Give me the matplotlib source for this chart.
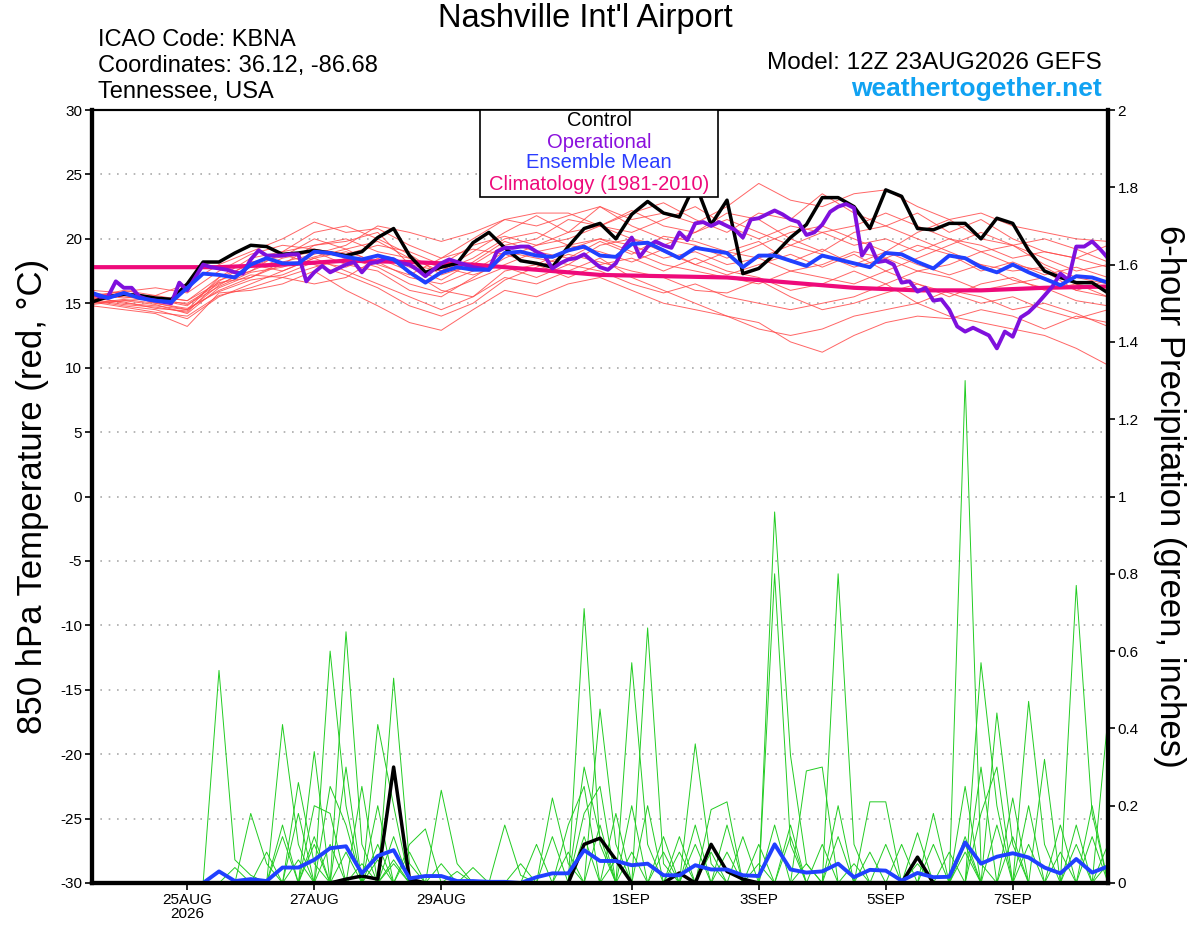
import numpy as np
import matplotlib.pyplot as plt
from matplotlib.patches import Rectangle

plt.rcParams['font.family'] = ['Liberation Sans', 'DejaVu Sans']

# forecast hours from 12Z 23AUG2026
tick_hours = [36, 84, 132, 204, 252, 300, 348]
tick_labels = ['25AUG\n2026', '27AUG', '29AUG', '1SEP', '3SEP', '5SEP', '7SEP']

# control 850 hPa temperature, 6-hourly
control_t = [15.1, 15.5, 15.7, 15.6, 15.4, 15.3, 16.5, 18.2, 18.2, 18.9,
             19.5, 19.4, 18.8, 18.9, 19.1, 18.9, 18.7, 19.0, 20.1, 20.8,
             18.7, 17.4, 17.8, 18.1, 19.7, 20.5, 19.3, 18.3, 18.1, 17.8,
             19.4, 20.8, 21.2, 20.0, 21.9, 22.9, 22.0, 21.7, 24.3, 21.1,
             23.0, 17.3, 17.7, 18.8, 20.1, 21.1, 23.2, 23.2, 22.5, 20.8,
             23.8, 23.3, 20.8, 20.7, 21.2, 21.2, 20.0, 21.6, 21.2, 19.1,
             17.5, 17.0, 16.6, 16.6, 15.8]

# ensemble mean temperature, 6-hourly
mean_t = [15.8, 15.4, 15.8, 15.4, 15.2, 15.1, 16.2, 17.3, 17.2, 17.0,
          18.0, 18.5, 18.1, 18.1, 19.0, 18.9, 18.6, 18.4, 18.7, 18.4,
          17.4, 16.6, 17.4, 17.8, 17.6, 17.6, 18.9, 19.0, 18.7, 18.6,
          19.1, 19.4, 18.7, 18.6, 19.6, 19.7, 19.1, 18.5, 19.3, 19.1,
          18.9, 17.8, 18.7, 18.7, 18.3, 17.9, 18.7, 18.4, 18.1, 17.8,
          18.9, 18.8, 18.2, 17.7, 18.7, 18.5, 17.8, 17.4, 18.0, 17.4,
          16.9, 16.4, 17.1, 17.0, 16.6]

# operational GFS temperature, 3-hourly
oper_t = [15.8, 15.5, 15.5, 16.7, 16.2, 16.2, 15.5, 15.3, 15.2, 15.1,
          15.0, 16.6, 16.0, 17.0, 18.0, 17.8, 17.7, 17.6, 17.4, 17.3,
          18.4, 19.1, 18.7, 18.7, 18.7, 18.8, 18.8, 16.7, 17.4, 17.9,
          17.4, 17.7, 18.0, 18.2, 17.4, 18.1, 18.2, 18.5, 18.4, 18.1,
          18.0, 17.6, 17.1, 17.6, 18.1, 18.4, 18.2, 18.0, 17.8, 17.7,
          17.6, 19.0, 19.3, 19.3, 19.4, 19.4, 19.0, 18.7, 17.7, 18.1,
          18.4, 18.5, 18.8, 18.3, 17.8, 17.6, 18.1, 19.3, 20.1, 18.6,
          19.4, 19.8, 19.5, 19.3, 20.5, 19.9, 21.2, 21.3, 21.0, 21.3,
          21.0, 20.7, 20.1, 21.5, 21.6, 21.9, 22.2, 21.9, 21.5, 21.3,
          20.3, 20.5, 21.1, 22.1, 22.5, 22.7, 22.4, 18.7, 19.6, 18.2,
          18.3, 18.0, 16.6, 16.7, 15.9, 16.2, 15.2, 15.3, 14.5, 13.2,
          12.8, 13.1, 12.8, 12.5, 11.5, 12.8, 12.4, 13.9, 14.3, 14.9,
          15.6, 16.3, 17.3, 16.8, 19.4, 19.4, 19.8, 19.2, 18.5]

# 1981-2010 climatology, daily
clim_t = [17.8, 17.8, 17.8, 18.0, 18.3, 18.2, 18.0, 17.6, 17.2,
          17.1, 17.0, 16.6, 16.2, 16.0, 16.0, 16.2, 16.3]

# ensemble member temperatures, 12-hourly
members_t = [
    [15.5, 16.0, 15.6, 16.5, 18.0, 19.0, 20.0, 21.3, 20.5, 20.8, 19.5, 18.5, 20.0, 21.5, 21.0, 21.8, 22.5,
     21.5, 22.0, 21.2, 22.5, 24.3, 23.0, 22.5, 23.5, 23.8, 22.5, 21.5, 22.0, 21.0, 20.5, 20.0, 19.8],
    [15.0, 15.3, 15.0, 14.5, 17.0, 18.5, 19.0, 19.5, 19.8, 20.5, 18.0, 17.5, 19.0, 20.5, 21.8, 20.5, 21.0,
     22.0, 22.8, 21.5, 20.5, 22.0, 21.5, 23.5, 22.0, 21.0, 22.0, 20.5, 21.5, 20.0, 19.0, 18.5, 17.8],
    [15.8, 15.5, 15.2, 15.0, 16.5, 17.5, 18.5, 19.0, 18.0, 17.5, 16.0, 15.5, 17.0, 18.5, 19.5, 20.5, 22.5,
     21.0, 20.0, 19.5, 18.5, 19.5, 20.5, 21.0, 20.0, 19.0, 20.5, 21.5, 20.0, 19.5, 18.0, 17.0, 16.5],
    [15.2, 14.8, 14.5, 13.8, 15.5, 16.5, 17.5, 18.5, 19.0, 18.2, 17.0, 16.5, 17.5, 19.0, 18.5, 18.0, 19.5,
     20.0, 19.0, 18.0, 19.0, 18.5, 17.5, 18.0, 19.0, 18.5, 17.5, 18.0, 19.0, 18.0, 17.5, 16.0, 15.5],
    [14.8, 14.5, 14.2, 13.2, 15.8, 16.0, 16.5, 17.5, 16.0, 14.8, 13.5, 12.9, 14.5, 16.0, 15.5, 16.5, 17.0,
     16.0, 15.0, 14.5, 14.0, 13.0, 12.5, 13.0, 14.0, 14.5, 15.0, 14.0, 13.5, 13.0, 12.5, 11.5, 10.2],
    [15.5, 15.0, 14.8, 14.5, 16.0, 17.0, 18.0, 19.5, 20.0, 19.0, 18.5, 17.5, 18.5, 20.0, 20.5, 19.5, 20.0,
     19.0, 18.0, 17.5, 17.0, 16.5, 17.5, 17.0, 16.5, 17.5, 16.5, 15.5, 16.5, 17.0, 16.0, 16.5, 15.5],
    [16.0, 15.8, 15.5, 15.2, 17.0, 18.0, 17.5, 18.5, 17.5, 16.5, 15.5, 14.5, 15.5, 17.0, 16.5, 17.5, 18.5,
     17.0, 16.0, 15.0, 14.0, 13.5, 12.0, 11.2, 12.5, 13.5, 14.0, 13.8, 14.5, 14.0, 13.0, 14.0, 13.5],
    [15.3, 15.6, 15.3, 14.8, 16.8, 17.5, 19.0, 20.5, 21.0, 20.0, 18.8, 17.2, 18.0, 19.5, 20.0, 21.5, 21.0,
     20.5, 21.5, 22.5, 21.0, 20.0, 21.0, 20.5, 19.5, 20.0, 19.0, 20.0, 19.5, 18.5, 19.0, 18.5, 19.5],
    [14.9, 15.2, 14.9, 14.2, 16.2, 17.2, 17.0, 17.8, 18.5, 17.8, 16.5, 15.8, 16.8, 17.8, 17.0, 18.0, 17.5,
     16.5, 15.8, 16.5, 15.5, 15.0, 14.5, 15.0, 15.5, 16.5, 15.0, 16.0, 15.5, 14.5, 15.0, 14.2, 13.2],
    [15.6, 15.9, 16.2, 15.8, 17.5, 18.8, 19.5, 19.2, 18.8, 19.5, 19.0, 18.0, 19.5, 20.2, 19.5, 20.0, 21.0,
     22.2, 21.0, 20.5, 21.5, 20.5, 19.5, 20.5, 21.0, 22.0, 21.0, 20.0, 19.0, 19.5, 18.5, 17.5, 18.0],
    [15.1, 14.7, 14.3, 14.0, 15.6, 16.2, 17.0, 16.5, 17.0, 18.5, 17.5, 16.0, 15.5, 17.5, 18.0, 17.0, 18.0,
     18.5, 17.5, 18.5, 17.5, 17.0, 16.0, 16.5, 17.5, 16.5, 17.5, 17.0, 16.0, 16.5, 17.0, 16.0, 16.8],
    [15.4, 15.1, 14.6, 14.4, 16.4, 17.8, 18.8, 18.0, 17.2, 16.2, 14.8, 14.0, 15.0, 16.8, 17.8, 18.8, 18.2,
     17.5, 17.0, 16.0, 15.8, 16.8, 15.5, 14.5, 15.0, 15.8, 16.5, 15.8, 15.0, 15.5, 14.5, 13.8, 14.5],
    [15.7, 15.4, 15.6, 15.2, 16.6, 17.0, 18.2, 18.8, 19.5, 21.0, 20.5, 19.8, 20.5, 21.5, 22.0, 22.0, 21.0,
     20.0, 19.5, 20.5, 22.0, 21.5, 20.0, 19.0, 20.5, 21.0, 20.0, 19.0, 18.0, 17.5, 17.8, 16.5, 16.0],
    [15.0, 15.2, 15.4, 14.9, 16.3, 17.4, 17.8, 18.6, 19.2, 18.0, 17.2, 18.5, 19.2, 18.8, 18.0, 19.2, 20.0,
     19.5, 18.5, 19.0, 18.0, 18.5, 19.5, 18.8, 17.8, 18.5, 19.5, 18.8, 17.5, 18.2, 17.2, 17.8, 17.0],
    [15.5, 15.8, 15.0, 14.6, 15.9, 16.8, 17.2, 18.2, 17.8, 18.8, 17.8, 16.8, 18.2, 19.8, 19.0, 19.5, 19.0,
     18.2, 19.2, 18.0, 17.2, 18.0, 18.8, 17.8, 18.8, 17.5, 18.5, 19.5, 20.5, 19.5, 20.0, 19.2, 18.2],
    [15.3, 14.9, 14.7, 14.3, 16.7, 18.2, 18.6, 20.0, 19.2, 19.8, 18.5, 17.8, 17.2, 18.0, 19.0, 18.5, 19.8,
     18.8, 20.2, 19.8, 19.0, 19.8, 18.2, 19.2, 18.0, 19.0, 18.0, 17.2, 18.0, 16.8, 16.2, 15.2, 14.8],
]

# 6-hour precipitation (inches), 6-hourly
control_p = [0, 0, 0, 0, 0, 0, 0, 0, 0, 0, 0, 0, 0, 0, 0, 0, 0.01, 0.018, 0.01, 0.30,
             0.01, 0, 0, 0, 0, 0, 0, 0, 0, 0, 0, 0.10, 0.116, 0.06, 0, 0, 0, 0.026, 0, 0.10,
             0.03, 0.01, 0, 0, 0, 0, 0, 0, 0, 0, 0, 0, 0.067, 0, 0, 0, 0, 0, 0, 0,
             0, 0, 0, 0, 0]

mean_p = [0, 0, 0, 0, 0, 0, 0, 0, 0.03, 0.005, 0.01, 0.005, 0.04, 0.04, 0.06, 0.09, 0.095, 0.025,
          0.07, 0.085, 0.012, 0.018, 0.018, 0.005, 0.005, 0.003, 0.003, 0, 0.015, 0.025, 0.025,
          0.085, 0.057, 0.057, 0.046, 0.05, 0.02, 0.02, 0.046, 0.035, 0.035, 0.02, 0.018, 0.10,
          0.035, 0.027, 0.03, 0.05, 0.015, 0.034, 0.032, 0.006, 0.026, 0.015, 0.016, 0.105, 0.05,
          0.068, 0.077, 0.066, 0.04, 0.025, 0.062, 0.027, 0.043]

members_p = [
    [0, 0, 0, 0, 0, 0, 0, 0, 0.55, 0.06, 0.02, 0, 0, 0, 0, 0, 0, 0, 0, 0.05, 0, 0, 0, 0, 0, 0,
     0, 0, 0, 0, 0, 0.71, 0.10, 0, 0, 0, 0, 0, 0, 0, 0, 0, 0, 0.96, 0.33, 0.05, 0, 0, 0, 0, 0, 0,
     0, 0, 0, 0.10, 0, 0, 0, 0, 0, 0, 0.15, 0, 0],
    [0, 0, 0, 0, 0, 0, 0, 0, 0, 0, 0, 0, 0.41, 0.10, 0, 0.60, 0.20, 0, 0, 0, 0, 0, 0, 0, 0, 0,
     0, 0, 0, 0.22, 0.05, 0, 0, 0, 0, 0.66, 0.05, 0, 0, 0, 0, 0, 0, 0, 0, 0, 0, 0.80, 0.10, 0, 0,
     0, 0, 0, 0, 0, 0.57, 0.20, 0, 0, 0, 0, 0, 0, 0.10],
    [0, 0, 0, 0, 0, 0, 0, 0, 0, 0, 0, 0, 0, 0, 0.34, 0, 0.65, 0.10, 0, 0.53, 0.05, 0, 0, 0, 0, 0,
     0, 0, 0, 0, 0, 0, 0, 0, 0.57, 0.10, 0, 0, 0, 0, 0, 0, 0, 0.80, 0.10, 0, 0, 0, 0, 0, 0, 0,
     0, 0, 0, 1.30, 0.05, 0, 0, 0.20, 0, 0, 0, 0, 0],
    [0, 0, 0, 0, 0, 0, 0, 0, 0, 0, 0.18, 0.05, 0, 0, 0, 0, 0, 0, 0.41, 0.20, 0, 0, 0.24, 0.05, 0, 0,
     0, 0, 0, 0, 0, 0, 0.45, 0.10, 0, 0, 0, 0, 0.36, 0.05, 0, 0, 0, 0, 0, 0, 0, 0, 0, 0.21, 0.21,
     0, 0, 0, 0, 0, 0, 0, 0, 0, 0, 0, 0.77, 0.18, 0],
    [0, 0, 0, 0, 0, 0, 0, 0, 0, 0, 0, 0, 0, 0.26, 0.05, 0, 0, 0, 0, 0, 0, 0, 0, 0, 0, 0, 0.15,
     0.02, 0, 0, 0, 0, 0, 0, 0, 0, 0, 0, 0, 0.19, 0.21, 0, 0, 0, 0, 0.29, 0.30, 0, 0, 0, 0, 0, 0,
     0, 0, 0, 0, 0.44, 0.10, 0, 0.32, 0, 0, 0, 0.43],
    [0, 0, 0, 0, 0, 0, 0, 0, 0, 0, 0, 0, 0.12, 0, 0, 0.25, 0.15, 0, 0.20, 0, 0, 0, 0, 0, 0, 0,
     0, 0, 0, 0, 0.15, 0.25, 0, 0.18, 0, 0, 0, 0.08, 0, 0, 0, 0.12, 0, 0, 0.15, 0, 0, 0, 0, 0, 0,
     0, 0.13, 0, 0, 0.25, 0, 0, 0, 0.47, 0.10, 0, 0, 0, 0],
    [0, 0, 0, 0, 0, 0, 0, 0, 0, 0.04, 0, 0, 0, 0, 0.20, 0.18, 0, 0.25, 0, 0, 0.08, 0, 0, 0, 0, 0,
     0, 0, 0.10, 0, 0, 0.18, 0.25, 0, 0, 0, 0.08, 0, 0, 0, 0, 0, 0.10, 0, 0, 0, 0, 0.20, 0, 0, 0,
     0, 0, 0.10, 0, 0, 0.30, 0, 0, 0, 0, 0.15, 0, 0, 0],
    [0, 0, 0, 0, 0, 0, 0, 0, 0, 0, 0, 0.08, 0, 0.18, 0, 0, 0.30, 0, 0, 0.12, 0, 0, 0, 0, 0.04, 0,
     0, 0, 0, 0.12, 0, 0, 0, 0, 0.20, 0, 0, 0, 0.10, 0, 0, 0, 0, 0.15, 0, 0, 0.10, 0, 0, 0, 0, 0,
     0, 0, 0.08, 0, 0, 0.15, 0, 0, 0, 0, 0, 0.12, 0],
    [0, 0, 0, 0, 0, 0, 0, 0, 0, 0, 0, 0, 0.15, 0, 0.10, 0, 0, 0.05, 0, 0, 0.10, 0.14, 0, 0, 0, 0,
     0, 0, 0, 0, 0.08, 0, 0, 0.06, 0, 0, 0, 0.12, 0, 0, 0.08, 0, 0, 0, 0, 0, 0, 0, 0.05, 0, 0,
     0.10, 0, 0, 0, 0.12, 0, 0, 0.22, 0, 0, 0, 0.10, 0, 0],
    [0, 0, 0, 0, 0, 0, 0, 0, 0, 0, 0, 0, 0, 0, 0, 0.10, 0, 0, 0.06, 0, 0, 0, 0, 0.03, 0, 0, 0,
     0, 0, 0, 0, 0.30, 0.12, 0, 0, 0.20, 0, 0, 0, 0.08, 0, 0, 0, 0, 0.12, 0, 0, 0, 0, 0.08, 0,
     0, 0, 0, 0, 0, 0.18, 0.30, 0, 0, 0, 0, 0, 0, 0.05],
    [0, 0, 0, 0, 0, 0, 0, 0, 0, 0, 0, 0, 0, 0.06, 0, 0, 0.08, 0, 0, 0.06, 0, 0, 0, 0, 0, 0, 0,
     0.05, 0, 0, 0, 0, 0.15, 0, 0, 0, 0.12, 0, 0, 0, 0.15, 0, 0, 0, 0, 0.05, 0, 0, 0, 0, 0.10,
     0, 0, 0.18, 0, 0, 0, 0, 0.12, 0, 0, 0.08, 0, 0, 0],
    [0, 0, 0, 0, 0, 0, 0, 0, 0, 0, 0, 0, 0, 0, 0.12, 0, 0, 0, 0.10, 0, 0, 0, 0.05, 0, 0, 0, 0,
     0, 0, 0, 0, 0.12, 0, 0, 0.08, 0, 0, 0, 0.15, 0, 0, 0, 0.05, 0, 0, 0, 0, 0.12, 0, 0, 0, 0,
     0.05, 0, 0, 0.08, 0, 0, 0, 0.10, 0, 0, 0, 0.20, 0],
]

h3 = np.arange(len(oper_t)) * 3
h6 = np.arange(len(control_t)) * 6
h12 = np.arange(len(members_t[0])) * 12
h24 = np.arange(len(clim_t)) * 24

fig = plt.figure(figsize=(12, 9.27), dpi=100)
ax = fig.add_axes([92 / 1200, 44 / 927, 1016 / 1200, 773 / 927])
ax2 = ax.twinx()

# temperature (left axis)
for m in members_t:
    ax.plot(h12, m, color='#ff4a4a', lw=0.7, alpha=0.85, zorder=2)
ax.plot(h24, clim_t, color='#ee0a7a', lw=3, zorder=3)
ax.plot(h6, control_t, color='black', lw=2.5, zorder=4)
ax.plot(h3, oper_t, color='#7f10dd', lw=2.8, zorder=5)
ax.plot(h6, mean_t, color='#2040ff', lw=2.8, zorder=6)

# precipitation (right axis)
for m in members_p:
    ax2.plot(h6, m, color='#22cc22', lw=0.7)
ax2.plot(h6, control_p, color='black', lw=2.5)
ax2.plot(h6, mean_p, color='#2040ff', lw=2.8)

ax.set_xlim(0, 384)
ax.set_ylim(-30, 30)
ax2.set_ylim(0, 2)

ax.set_yticks(np.arange(-30, 31, 5))
ax.set_yticklabels([str(v) for v in range(-30, 31, 5)], fontsize=11)
ax2.set_yticks(np.arange(0, 2.01, 0.2))
ax2.set_yticklabels(['0', '0.2', '0.4', '0.6', '0.8', '1', '1.2', '1.4', '1.6', '1.8', '2'], fontsize=11)
ax.set_xticks(tick_hours)
ax.set_xticklabels(tick_labels, fontsize=11, linespacing=1.0)

for y in range(-25, 30, 5):
    ax.axhline(y, color='#aaaaaa', lw=1.2, ls=(0, (1, 4)), zorder=1)

for a in (ax, ax2):
    a.spines['left'].set_linewidth(3)
    a.spines['right'].set_linewidth(3)
    a.spines['bottom'].set_linewidth(3)
    a.spines['top'].set_linewidth(1.5)
ax.tick_params(axis='both', length=5, width=1.2, pad=2)
ax2.tick_params(axis='y', length=5, width=1.2, pad=2)

ax.set_ylabel('850 hPa Temperature (red, °C)', fontsize=25, labelpad=8)
ax2.set_ylabel('6-hour Precipitation (green, inches)', fontsize=25, rotation=-90, labelpad=34)

# header text
fig.text(585 / 1200, 1 - 18 / 927, "Nashville Int'l Airport", fontsize=23.5, ha='center', va='center')
fig.text(98 / 1200, 1 - 40 / 927, 'ICAO Code: KBNA', fontsize=17, ha='left', va='center')
fig.text(98 / 1200, 1 - 66 / 927, 'Coordinates: 36.12, -86.68', fontsize=17, ha='left', va='center')
fig.text(98 / 1200, 1 - 92 / 927, 'Tennessee, USA', fontsize=17, ha='left', va='center')
fig.text(1102 / 1200, 1 - 63 / 927, 'Model: 12Z 23AUG2026 GEFS', fontsize=17.5, ha='right', va='center')
fig.text(1102 / 1200, 1 - 89 / 927, 'weathertogether.net', fontsize=19, fontweight='bold',
         color='#10a2f2', ha='right', va='center')

# legend box
fig.patches.append(Rectangle((480 / 1200, 1 - 197 / 927), 238 / 1200, 87 / 927,
                             transform=fig.transFigure, facecolor='white',
                             edgecolor='black', lw=1.2, zorder=10))
legend_items = [('Control', 'black', 121), ('Operational', '#8a10dd', 142),
                ('Ensemble Mean', '#2a3cff', 163), ('Climatology (1981-2010)', '#ee0a7a', 185)]
for label, col, ypix in legend_items:
    fig.text(599 / 1200, 1 - ypix / 927, label, color=col, fontsize=14.5,
             ha='center', va='center', zorder=11)

fig.savefig('out.png', dpi=100)
